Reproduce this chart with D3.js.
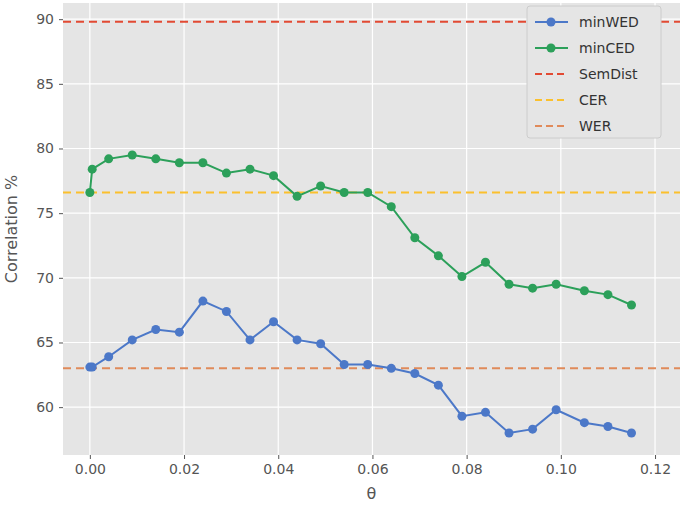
<!DOCTYPE html><html><head><meta charset="utf-8"><script src="https://cdn.jsdelivr.net/npm/d3@7"></script>
<style>body{margin:0;background:#fff}text{font-family:"DejaVu Sans",sans-serif}</style></head><body><svg id="c" width="685" height="506"></svg><script>
const theta=[0,0.0005,0.004,0.009,0.014,0.019,0.024,0.029,0.034,0.039,0.044,0.049,0.054,0.059,0.064,0.069,0.074,0.079,0.084,0.089,0.094,0.099,0.105,0.110,0.115];
const minWED=[63.1,63.1,63.9,65.2,66.0,65.8,68.2,67.4,65.2,66.6,65.2,64.9,63.3,63.3,63.0,62.6,61.7,59.3,59.6,58.0,58.3,59.8,58.8,58.5,58.0];
const minCED=[76.6,78.4,79.2,79.5,79.2,78.9,78.9,78.1,78.4,77.9,76.3,77.1,76.6,76.6,75.5,73.1,71.7,70.1,71.2,69.5,69.2,69.5,69.0,68.7,67.9];
const refNames=["SemDist","CER","WER"], refVals=[89.8,76.6,63.0];
const xTicks=[0,0.02,0.04,0.06,0.08,0.1,0.12], yTicks=[60,65,70,75,80,85,90];
const svg=d3.select("#c");
const L=63,R=680,T=3,B=455;
const x=d3.scaleLinear().domain([-0.0057,0.1253]).range([L,R]);
const y=d3.scaleLinear().domain([56.3,91.25]).range([B,T]);
svg.append("rect").attr("x",L).attr("y",T).attr("width",R-L).attr("height",B-T).attr("fill","#e5e5e5");
const g=svg.append("g");
xTicks.forEach(t=>g.append("line").attr("x1",x(t)).attr("x2",x(t)).attr("y1",T).attr("y2",B).attr("stroke","#fff").attr("stroke-width",1.2));
yTicks.forEach(t=>g.append("line").attr("y1",y(t)).attr("y2",y(t)).attr("x1",L).attr("x2",R).attr("stroke","#fff").attr("stroke-width",1.2));
const xa=svg.append("g").attr("transform",`translate(0,${B})`).call(d3.axisBottom(x).tickValues(xTicks).tickFormat(d3.format(".2f")).tickSize(4).tickPadding(5));
const ya=svg.append("g").attr("transform",`translate(${L},0)`).call(d3.axisLeft(y).tickValues(yTicks).tickSize(4).tickPadding(5));
[xa,ya].forEach(a=>{a.select(".domain").remove();a.selectAll("line").attr("stroke","#555");a.selectAll("text").attr("fill","#555").style("font-size","14px");});
const refCols=["#e24a33","#fbc02d","#e08a5a"];
refVals.forEach((v,i)=>svg.append("line").attr("x1",L).attr("x2",R).attr("y1",y(v)).attr("y2",y(v)).attr("stroke",refCols[i]).attr("stroke-width",2).attr("stroke-dasharray","8,5"));
const series=[["minWED",minWED,"#4c78c8"],["minCED",minCED,"#2ca05a"]];
series.forEach(([n,vals,c])=>{
 const d=theta.map((t,i)=>[t,vals[i]]);
 svg.append("path").attr("d",d3.line().x(p=>x(p[0])).y(p=>y(p[1]))(d)).attr("fill","none").attr("stroke",c).attr("stroke-width",2);
 svg.selectAll(null).data(d).enter().append("circle").attr("cx",p=>x(p[0])).attr("cy",p=>y(p[1])).attr("r",4.5).attr("fill",c);
});
svg.append("text").attr("x",(L+R)/2).attr("y",499).attr("text-anchor","middle").attr("fill","#555").style("font-size","16px").text("θ");
svg.append("text").attr("transform",`translate(17,${(T+B)/2}) rotate(-90)`).attr("text-anchor","middle").attr("fill","#555").style("font-size","16px").text("Correlation %");
const lg=svg.append("g");
lg.append("rect").attr("x",527).attr("y",6).attr("width",134).attr("height",132).attr("rx",3).attr("fill","#e5e5e5").attr("stroke","#ccc");
const items=[["minWED","#4c78c8",true],["minCED","#2ca05a",true],["SemDist",refCols[0],false],["CER",refCols[1],false],["WER",refCols[2],false]];
items.forEach(([n,c,m],i)=>{const yy=22+i*26;
 lg.append("line").attr("x1",535).attr("x2",568).attr("y1",yy).attr("y2",yy).attr("stroke",c).attr("stroke-width",2).attr("stroke-dasharray",m?null:"7,4");
 if(m) lg.append("circle").attr("cx",551).attr("cy",yy).attr("r",4.5).attr("fill",c);
 lg.append("text").attr("x",579).attr("y",yy+5).attr("fill","#333").style("font-size","14px").text(n);});
</script></body></html>
